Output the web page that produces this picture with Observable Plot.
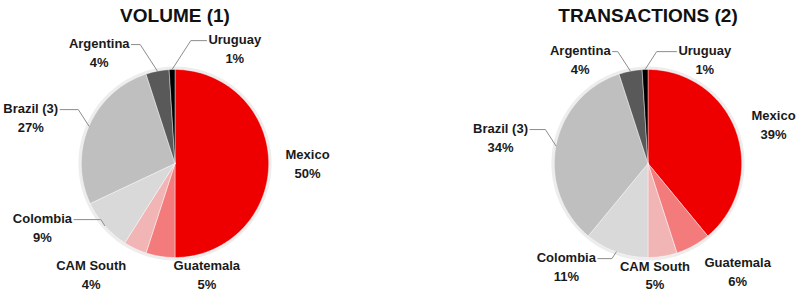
<!DOCTYPE html>
<html>
<head>
<meta charset="utf-8">
<script src="https://cdn.jsdelivr.net/npm/d3@7"></script>
<script src="https://cdn.jsdelivr.net/npm/@observablehq/plot@0.6"></script>
<style>
  html, body { margin: 0; padding: 0; background: #fff; }
  #chart svg { display: block; }
</style>
</head>
<body>
<div id="chart"></div>
<script>
// ---- data ----
const charts = ["VOLUME (1)", "TRANSACTIONS (2)"];
const countries = ["Mexico", "Guatemala", "CAM South", "Colombia", "Brazil (3)", "Argentina", "Uruguay"];
const volumeShare = [50, 5, 4, 9, 27, 4, 1];
const transactionShare = [39, 6, 5, 11, 34, 4, 1];

// ---- styling / layout (not data) ----
const sliceColors = ["#EE0000", "#F37B7B", "#F2B5B5", "#D9D9D9", "#BFBFBF", "#595959", "#000000"];
// label centre offsets from pie centre, in pie radii (x right, y up), and whether a leader line is drawn
const labelLayout = {
  "VOLUME (1)": [[1.415, 0.01, 0], [0.34, -1.166, 0], [-0.894, -1.166, 0], [-1.415, -0.666, 1], [-1.54, 0.504, 1], [-0.809, 1.196, 1], [0.638, 1.238, 1]],
  "TRANSACTIONS (2)": [[1.340, 0.43, 0], [0.957, -1.134, 0], [0.074, -1.176, 0], [-0.872, -1.081, 1], [-1.574, 0.292, 1], [-0.723, 1.121, 1], [0.606, 1.121, 1]]
};
const R = 94;               // pie radius in px
const facetW = 300, plotH = 270;
const kx = facetW / 2 / R, ky = plotH / 2 / R;
const labelFont = "bold 13px 'Liberation Sans', Arial, sans-serif";

const ctx = document.createElement("canvas").getContext("2d");
ctx.font = labelFont;

const seriesByChart = {"VOLUME (1)": volumeShare, "TRANSACTIONS (2)": transactionShare};

const slices = [], labels = [], leaders = [], rings = [];
for (const chart of charts) {
  const values = seriesByChart[chart];
  const arcs = d3.pie().sort(null).value(d => d)(values);
  arcs.forEach((a, i) => {
    const key = chart + "|" + countries[i];
    slices.push({chart, country: countries[i], key, x: 0, y: 0});
    const n = Math.max(2, Math.ceil((a.endAngle - a.startAngle) / (Math.PI / 180)));
    for (let k = 0; k <= n; k++) {
      const t = a.startAngle + (a.endAngle - a.startAngle) * k / n;
      slices.push({chart, country: countries[i], key, x: Math.sin(t), y: Math.cos(t)});
    }
    slices.push({chart, country: countries[i], key, x: 0, y: 0});

    const [lx, ly, lead] = labelLayout[chart][i];
    labels.push({chart, x: lx, y: ly, text: countries[i] + "\n" + values[i] + "%"});
    if (lead) {
      const mid = (a.startAngle + a.endAngle) / 2;
      const ax = Math.sin(mid), ay = Math.cos(mid);
      const w = ctx.measureText(countries[i]).width;
      const side = lx < ax ? 1 : -1;
      const sx = lx + side * (w / 2 + 2) / R;
      const sy = ly + (9.5 - 3) / R;
      const ex = ax - side * Math.abs(ay - sy) * 0.65;
      leaders.push({chart, key, x: sx, y: sy}, {chart, key, x: ex, y: sy}, {chart, key, x: ax, y: ay});
    }
  });
  for (let k = 0; k <= 180; k++) {
    const t = 2 * Math.PI * k / 180;
    rings.push({chart, x: 1.01 * Math.sin(t), y: 1.01 * Math.cos(t)});
  }
}

const plot = Plot.plot({
  width: 802,
  height: 298,
  marginLeft: 24,
  marginRight: 4,
  marginTop: 28,
  marginBottom: 0,
  x: {domain: [-kx, kx], axis: null},
  y: {domain: [-ky, ky], axis: null},
  fx: {domain: charts, paddingInner: 0.367, paddingOuter: 0, axis: null},
  color: {domain: countries, range: sliceColors},
  style: {fontFamily: "'Liberation Sans', Arial, sans-serif", background: "white"},
  marks: [
    Plot.line(rings, {fx: "chart", x: "x", y: "y", stroke: "#000", strokeOpacity: 0.07, strokeWidth: 4}),
    Plot.line(slices, {fx: "chart", x: "x", y: "y", z: "key", fill: "country", stroke: "white", strokeWidth: 0.6, strokeOpacity: 0.7}),
    Plot.line(leaders, {fx: "chart", x: "x", y: "y", z: "key", stroke: "#8c8c8c", strokeWidth: 1}),
    Plot.text(labels, {fx: "chart", x: "x", y: "y", text: "text", lineAnchor: "middle", lineHeight: 1.45, fontSize: 13, fontWeight: "bold", fill: "#1a1a1a"}),
    Plot.text(charts, {fx: d => d, text: d => d, frameAnchor: "top", dy: -13, lineAnchor: "middle", fontSize: 19, fontWeight: "bold", fill: "#111"})
  ]
});
document.getElementById("chart").append(plot);
</script>
</body>
</html>
